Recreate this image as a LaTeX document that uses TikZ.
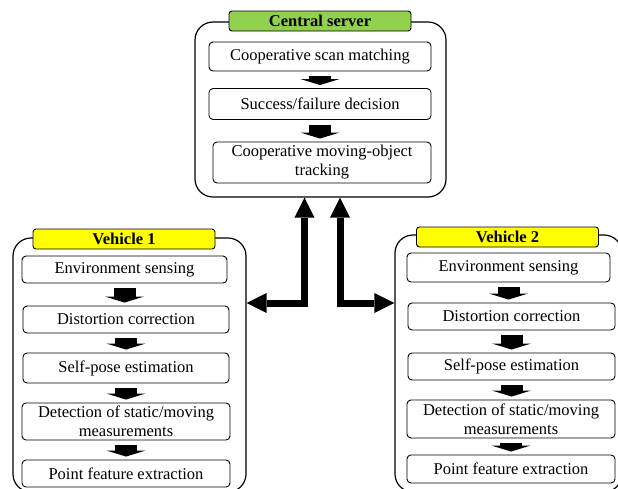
\documentclass[tikz,border=0pt]{standalone}
\usepackage{fontspec}
\setmainfont{Liberation Serif}
\usetikzlibrary{arrows.meta}
\definecolor{srvgreen}{HTML}{92D050}
\definecolor{vehyellow}{HTML}{FFFF00}
\begin{document}
\begin{tikzpicture}[x=1pt,y=-1pt,
 frame/.style={draw,rounded corners=18,line width=1.2pt,inner sep=0pt},
 box/.style={draw,rounded corners=4,line width=0.9pt,inner sep=0pt,
 minimum height=27,align=center,font=\fontsize{16.5}{19}\selectfont},
 tab/.style={draw,rounded corners=3,line width=0.9pt,inner sep=0pt,
 minimum width=182,minimum height=20,font=\fontsize{16.5}{19}\selectfont\bfseries},
 flow/.style={line width=22pt,shorten <=5pt,shorten >=3pt,
 -{Triangle[width=39pt,length=6pt,line width=0pt]}},
 link/.style={line width=7pt,
 {Triangle[width=20pt,length=20pt,line width=0pt]}-{Triangle[width=20pt,length=20pt,line width=0pt]}}]
\useasboundingbox (0,0) rectangle (618,488);
\clip (0,0) rectangle (618,488);
% central server
\node[frame,minimum width=251,minimum height=175] (srv) at (320.5,109.5) {};
\node[tab,fill=srvgreen] (srvt) at (320,21) {Central server};
\node[box,minimum width=222,minimum height=29] (s1) at (320,56.5) {Cooperative scan matching};
\node[box,minimum width=222,minimum height=31] (s2) at (320,104) {Success/failure decision};
\node[box,minimum width=218,minimum height=41] (s3) at (322,162.5) {Cooperative moving-object\\tracking};
% vehicle 1
\node[frame,minimum width=233,minimum height=254] (v1) at (129.5,365) {};
\node[tab,fill=vehyellow] (v1t) at (124,239) {Vehicle 1};
\node[box,minimum width=205] (a1) at (124.5,269.5) {Environment sensing};
\node[box,minimum width=206] (a2) at (126,319.5) {Distortion correction};
\node[box,minimum width=206,minimum height=30] (a3) at (126,368) {Self-pose estimation};
\node[box,minimum width=208,minimum height=37] (a4) at (126,421.5) {Detection of static/moving\\measurements};
\node[box,minimum width=208] (a5) at (126,473.5) {Point feature extraction};
% vehicle 2
\node[frame,minimum width=227,minimum height=257] (v2) at (508.5,363.5) {};
\node[tab,fill=vehyellow] (v2t) at (507.5,237) {Vehicle 2};
\node[box,minimum width=203,minimum height=29] (b1) at (508.5,267.5) {Environment sensing};
\node[box,minimum width=207] (b2) at (511.5,316.5) {Distortion correction};
\node[box,minimum width=207] (b3) at (511.5,366.5) {Self-pose estimation};
\node[box,minimum width=208,minimum height=38] (b4) at (511,419) {Detection of static/moving\\measurements};
\node[box,minimum width=208,minimum height=28] (b5) at (511,469) {Point feature extraction};
\foreach \u/\v in {s1/s2,s2/s3,a1/a2,a2/a3,a3/a4,a4/a5,b1/b2,b2/b3,b3/b4,b4/b5}
 {\draw[flow] (\u.south) -- (\u.south |- \v.north);}
% links to the vehicles
\coordinate (j1) at (304.5,303);
\coordinate (j2) at (340,303);
\draw[link] (srv.south -| j1) -- (j1) -- (j1 -| v1.east);
\draw[link] (srv.south -| j2) -- (j2) -- (j2 -| v2.west);
\end{tikzpicture}
\end{document}
